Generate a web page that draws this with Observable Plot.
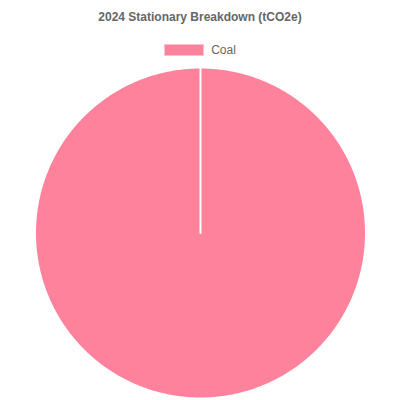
<!DOCTYPE html>
<html><head><meta charset="utf-8">
<script src="https://cdn.jsdelivr.net/npm/d3@7"></script>
<script src="https://cdn.jsdelivr.net/npm/@observablehq/plot@0.6"></script>
<style>
body{margin:0;background:#fff;font-family:"Liberation Sans",Arial,Helvetica,sans-serif;}
#wrap{position:relative;width:400px;height:400px;overflow:hidden;}
#title{position:absolute;left:0;top:9px;width:400px;text-align:center;font-weight:bold;font-size:12px;color:#666;line-height:16px;}
#legend{position:absolute;left:0;top:43px;width:400px;display:flex;justify-content:center;align-items:center;font-size:12px;color:#666;line-height:14px;}
.sw{display:inline-block;width:38px;height:10px;border:1px solid #ffc0cc;margin-right:7px;}
#chart{position:absolute;left:0;top:64px;}
</style></head>
<body><div id="wrap"><div id="title"></div><div id="legend"></div><div id="chart"></div></div>
<script>
const title = "2024 Stationary Breakdown (tCO2e)";
const categories = ["Coal"];
const values = [100];
const colors = ["rgba(255,99,132,0.8)"];

document.getElementById("title").textContent = title;
const lg = document.getElementById("legend");
categories.forEach((c,i)=>{
  const s=document.createElement("span");s.className="sw";s.style.background=colors[i];
  const t=document.createElement("span");t.textContent=c;
  lg.appendChild(s);lg.appendChild(t);
});

const data = categories.map((c,i)=>({label:c,value:values[i]}));
const arcs = d3.pie().sort(null).value(d=>d.value)(data);
const pts = [];
arcs.forEach(a=>{
  const lab=a.data.label;
  pts.push({label:lab,x:0,y:0});
  const n=Math.max(2,Math.ceil((a.endAngle-a.startAngle)/0.01));
  for(let k=0;k<=n;k++){
    const t=a.startAngle+(a.endAngle-a.startAngle)*k/n;
    pts.push({label:lab,x:Math.sin(t),y:Math.cos(t)});
  }
  pts.push({label:lab,x:0,y:0});
});
const R=165.5, W=400, H=337;
const chart = Plot.plot({
  width:W,height:H,margin:0,
  x:{domain:[-(W/2)/R,(W/2)/R],axis:null},
  y:{domain:[-(H/2)/R,(H/2)/R],axis:null},
  color:{domain:categories,range:colors},
  marks:[
    Plot.line(pts,{x:"x",y:"y",z:"label",fill:"label",stroke:"white",strokeWidth:2,curve:"linear"})
  ]
});
document.getElementById("chart").appendChild(chart);
</script></body></html>
